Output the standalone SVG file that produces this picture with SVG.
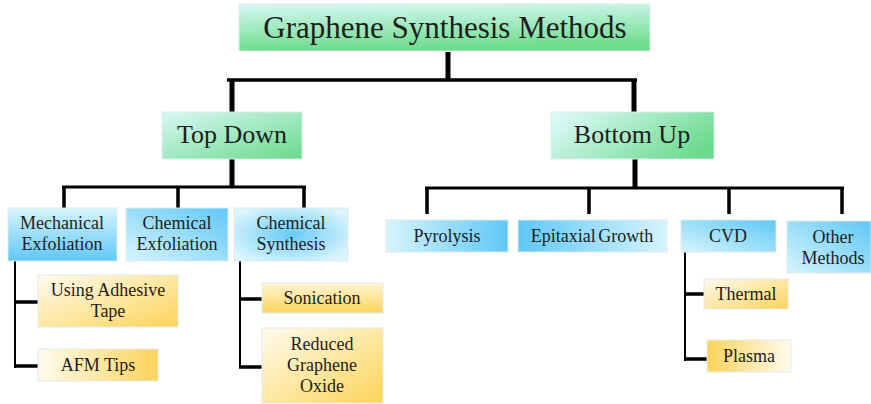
<svg xmlns="http://www.w3.org/2000/svg" width="871" height="404" viewBox="0 0 871 404">
<style>
text{font-family:'Liberation Serif','DejaVu Serif','Times New Roman',serif;fill:#1e1e1e;text-anchor:middle}
.t0{font-size:31px}
.t1{font-size:26px}
.t2{font-size:18px}
.box{stroke:#dfe9ea;stroke-width:1}
.c{stroke:#000;fill:none;stroke-linecap:butt}
.thick{stroke-width:5}
.med{stroke-width:3.5}
.thin{stroke-width:2}
</style>
<defs>
<linearGradient id="gV" x1="0" y1="0" x2="0.15" y2="1"><stop offset="0" stop-color="#d6f8f6"/><stop offset="1" stop-color="#6ddc8b"/></linearGradient>
<linearGradient id="gD" x1="0" y1="0" x2="1" y2="1"><stop offset="0" stop-color="#d9f8f6"/><stop offset="1" stop-color="#6ad98a"/></linearGradient>
<linearGradient id="gH" x1="0" y1="0.3" x2="1" y2="0.7"><stop offset="0" stop-color="#d9f8f6"/><stop offset="1" stop-color="#6ad98a"/></linearGradient>
<linearGradient id="bV" x1="0" y1="0" x2="0" y2="1"><stop offset="0" stop-color="#d7f4fd"/><stop offset="1" stop-color="#5fc8f6"/></linearGradient>
<linearGradient id="bTR" x1="1" y1="0" x2="0" y2="1"><stop offset="0" stop-color="#5fc8f6"/><stop offset="1" stop-color="#d7f4fd"/></linearGradient>
<radialGradient id="bR" cx="0.5" cy="0.5" r="0.6"><stop offset="0" stop-color="#66cbf6"/><stop offset="1" stop-color="#dcf5fd"/></radialGradient>
<linearGradient id="bLR" x1="0" y1="0" x2="1" y2="0"><stop offset="0" stop-color="#d7f4fd"/><stop offset="1" stop-color="#5fc8f6"/></linearGradient>
<linearGradient id="bRL" x1="0" y1="0" x2="1" y2="0"><stop offset="0" stop-color="#5fc8f6"/><stop offset="1" stop-color="#d7f4fd"/></linearGradient>
<linearGradient id="bBL" x1="0" y1="1" x2="1" y2="0"><stop offset="0" stop-color="#d7f4fd"/><stop offset="1" stop-color="#5fc8f6"/></linearGradient>
<linearGradient id="yD" x1="0" y1="0" x2="1" y2="1"><stop offset="0" stop-color="#fffbee"/><stop offset="1" stop-color="#fcd45a"/></linearGradient>
<linearGradient id="yLR" x1="0" y1="0" x2="1" y2="0"><stop offset="0" stop-color="#fffbee"/><stop offset="1" stop-color="#fcd45a"/></linearGradient>
<linearGradient id="yRL" x1="0" y1="0" x2="1" y2="0"><stop offset="0" stop-color="#fcd45a"/><stop offset="1" stop-color="#fffbee"/></linearGradient>
<linearGradient id="yV" x1="0" y1="0" x2="0" y2="1"><stop offset="0" stop-color="#fff6d6"/><stop offset="1" stop-color="#fcd45a"/></linearGradient>
</defs>
<g id="connectors">
<path class="c thick" d="M448 52V80"/>
<path class="c med" d="M227 80H637"/>
<path class="c thick" d="M232 80V112M634 80V112"/>
<path class="c thick" d="M232 159V187M635 159V188"/>
<path class="c" stroke-width="3" d="M62 187H306M425 188H844"/>
<path class="c med" d="M64 187V208M178 187V208M304 187V208"/>
<path class="c med" d="M427 188V214M589 188V214M729 188V214M842 188V214"/>
<path class="c thin" d="M15 261V368M240 261V368M685 252V361"/>
<path class="c med" d="M14 302H38M14 366H38M239 299H262M239 367H262M684 294H704M684 359H707"/>
</g>
<g id="n-title"><rect class="box" x="239" y="4" width="411" height="47" fill="url(#gV)"/><text class="t0" x="445" y="38">Graphene Synthesis Methods</text></g>
<g id="n-topdown"><rect class="box" x="162" y="112" width="140" height="47" fill="url(#gD)"/><text class="t1" x="232" y="143">Top Down</text></g>
<g id="n-bottomup"><rect class="box" x="551" y="112" width="163" height="47" fill="url(#gH)"/><text class="t1" x="632" y="143">Bottom Up</text></g>
<g id="n-mech"><rect class="box" x="8" y="208" width="109" height="53" fill="url(#bV)"/><text class="t2" x="62" y="229">Mechanical</text><text class="t2" x="62" y="250">Exfoliation</text></g>
<g id="n-chemexf"><rect class="box" x="126" y="208" width="102" height="53" fill="url(#bTR)"/><text class="t2" x="177" y="229">Chemical</text><text class="t2" x="177" y="250">Exfoliation</text></g>
<g id="n-chemsyn"><rect class="box" x="234" y="208" width="114" height="53" fill="url(#bR)"/><text class="t2" x="291" y="229">Chemical</text><text class="t2" x="291" y="250">Synthesis</text></g>
<g id="n-pyro"><rect class="box" x="386" y="220" width="122" height="32" fill="url(#bLR)"/><text class="t2" x="447" y="242">Pyrolysis</text></g>
<g id="n-epi"><rect class="box" x="518" y="220" width="149" height="32" fill="url(#bRL)"/><text class="t2" x="592" y="242" word-spacing="-2">Epitaxial Growth</text></g>
<g id="n-cvd"><rect class="box" x="681" y="220" width="95" height="32" fill="url(#bBL)"/><text class="t2" x="728" y="242">CVD</text></g>
<g id="n-other"><rect class="box" x="787" y="221" width="84" height="52" fill="url(#bTR)"/><text class="t2" x="833" y="243">Other</text><text class="t2" x="833" y="264">Methods</text></g>
<g id="n-tape"><rect class="box" x="38" y="275" width="140" height="52" fill="url(#yD)"/><text class="t2" x="108" y="296">Using Adhesive</text><text class="t2" x="108" y="317">Tape</text></g>
<g id="n-afm"><rect class="box" x="38" y="349" width="120" height="32" fill="url(#yLR)"/><text class="t2" x="98" y="371">AFM Tips</text></g>
<g id="n-soni"><rect class="box" x="262" y="283" width="121" height="30" fill="url(#yV)"/><text class="t2" x="322" y="304">Sonication</text></g>
<g id="n-rgo"><rect class="box" x="262" y="328" width="121" height="75" fill="url(#yD)"/><text class="t2" x="322" y="350">Reduced</text><text class="t2" x="322" y="371">Graphene</text><text class="t2" x="322" y="392">Oxide</text></g>
<g id="n-thermal"><rect class="box" x="704" y="279" width="84" height="30" fill="url(#yD)"/><text class="t2" x="746" y="300">Thermal</text></g>
<g id="n-plasma"><rect class="box" x="707" y="340" width="84" height="32" fill="url(#yRL)"/><text class="t2" x="749" y="362">Plasma</text></g>
</svg>
